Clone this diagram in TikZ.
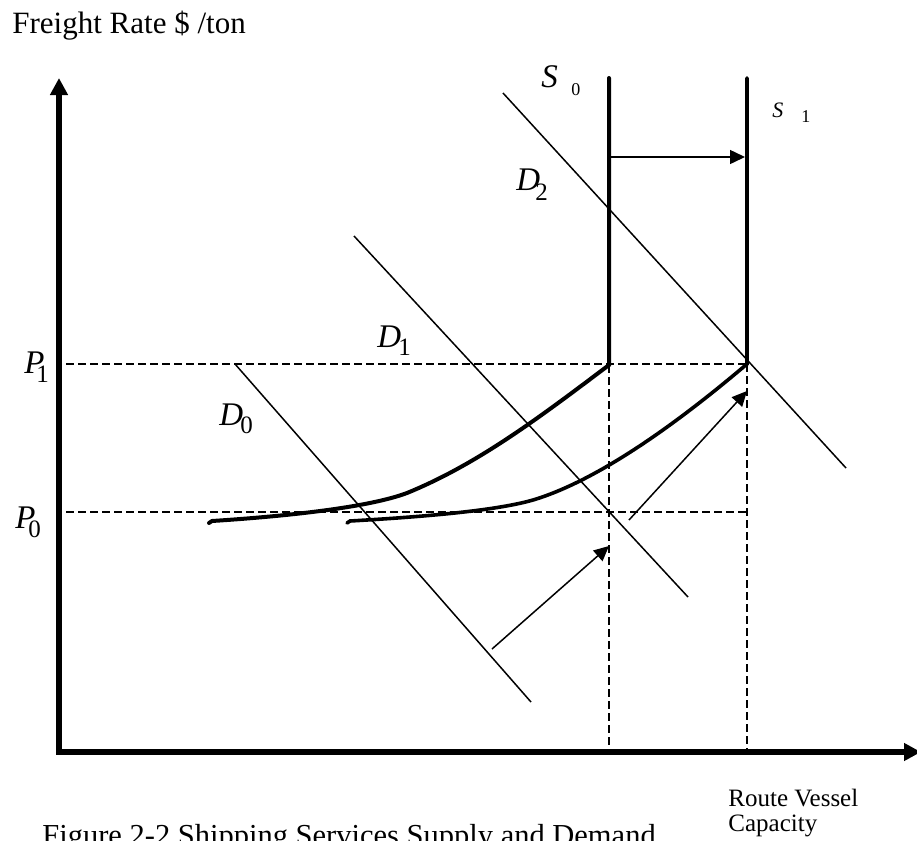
\documentclass[tikz,border=0pt]{standalone}
\usepackage{fontspec}
\setmainfont{Liberation Serif}
\usetikzlibrary{arrows.meta}
\newcommand{\fsz}[1]{\fontsize{#1}{#1}\selectfont}
\begin{document}
\begin{tikzpicture}[x=0.5pt,y=-0.5pt,
  lab/.style={anchor=base west, inner sep=0pt},
  big/.style={lab, font=\fsz{16.5pt}\itshape},
  sub/.style={lab, font=\fsz{12.5pt}},
  axisline/.style={line width=2.8pt, {Triangle[length=8.5pt,width=8.5pt]}-{Triangle[length=8.5pt,width=8.5pt]}},
  supplyline/.style={line width=2pt, line cap=round, line join=miter},
  demandline/.style={line width=0.75pt},
  guide/.style={line width=0.75pt, dash pattern=on 4pt off 2pt},
  shiftarrow/.style={line width=0.75pt, -{Triangle[length=7.5pt,width=7pt]}},
]
\useasboundingbox (0,0) rectangle (917,841);

% key points
\coordinate (Ytop) at (59,78);
\coordinate (O) at (59,752);
\coordinate (Xend) at (921,752);
\coordinate (S0top) at (609,78);
\coordinate (E0) at (609,365);
\coordinate (S1top) at (747,78);
\coordinate (E1) at (747,364);
\coordinate (P1l) at (66,364);
\coordinate (P1r) at (747,364);
\coordinate (P0l) at (66,512);
\coordinate (P0r) at (747,512);
\coordinate (Q0) at (609,752);
\coordinate (Q1) at (747,752);
\coordinate (D0a) at (235,364);
\coordinate (D0b) at (531,702);
\coordinate (D1a) at (354,236);
\coordinate (D1b) at (688,597);
\coordinate (D2a) at (503,93);
\coordinate (D2b) at (846,468);
\coordinate (A0) at (212,521);
\coordinate (AH) at (209,523);
\coordinate (AM) at (407,493);
\coordinate (B0) at (350,521);
\coordinate (BH) at (347,523);
\coordinate (BM) at (533,500);

% dashed guides
\draw[guide] (P1l) -- (P1r);
\draw[guide] (P0l) -- (P0r);
\draw[guide] (E0) -- (Q0);
\draw[guide] (E1) -- (Q1);

% axes
\draw[axisline] (Ytop) -- (O) -- (Xend);

% demand lines
\draw[demandline] (D0a) -- (D0b);
\draw[demandline] (D1a) -- (D1b);
\draw[demandline] (D2a) -- (D2b);

% supply curves
\draw[supplyline] (S0top) -- (E0)
  .. controls (540,417) and (478,464) .. (AM)
  .. controls (370,507) and (290,516) .. (A0) -- (AH);
\draw[supplyline, line width=1.8pt] (S1top) -- (E1)
  .. controls (687,415) and (603,479) .. (BM)
  .. controls (495,511) and (420,517) .. (B0) -- (BH);

% shift arrows
\coordinate (A0s) at (611,157);
\coordinate (A0e) at (745,157);
\draw[shiftarrow] (A0s) -- (A0e);
\coordinate (A1s) at (492,649);
\coordinate (A1e) at (609,546);
\draw[shiftarrow] (A1s) -- (A1e);
\coordinate (A2s) at (629,520);
\coordinate (A2e) at (747,391);
\draw[shiftarrow] (A2s) -- (A2e);

% labels
\node[lab, font=\fsz{15.5pt}] (ylab) at (12,33) {Freight Rate \$ /ton};
\node[lab, font=\fsz{15.25pt}] (caption) at (42,845) {Figure 2-2 Shipping Services Supply and Demand};
\node[lab, font=\fsz{12.5pt}] (xlab1) at (728,806) {Route Vessel};
\node[lab, font=\fsz{12.5pt}] (xlab2) at (728,831) {Capacity};

\node[big] (P1m) at (24,373) {P};
\node[sub] (P1s) at (36,382) {1};
\node[big] (P0m) at (15,528) {P};
\node[sub] (P0s) at (28,537) {0};

\node[big] (D0m) at (219,425) {D};
\node[sub] (D0s) at (240,433) {0};
\node[big] (D1m) at (377,347) {D};
\node[sub] (D1s) at (398,355) {1};
\node[big] (D2m) at (516,190) {D};
\node[sub] (D2s) at (535,200) {2};

\node[big] (S0m) at (541,87) {S};
\node[lab, font=\fsz{9pt}] (S0s) at (571,95) {0};
\node[lab, font=\fsz{11pt}\itshape] (S1m) at (772,117) {S};
\node[lab, font=\fsz{9pt}] (S1s) at (801,122) {1};
\end{tikzpicture}
\end{document}
